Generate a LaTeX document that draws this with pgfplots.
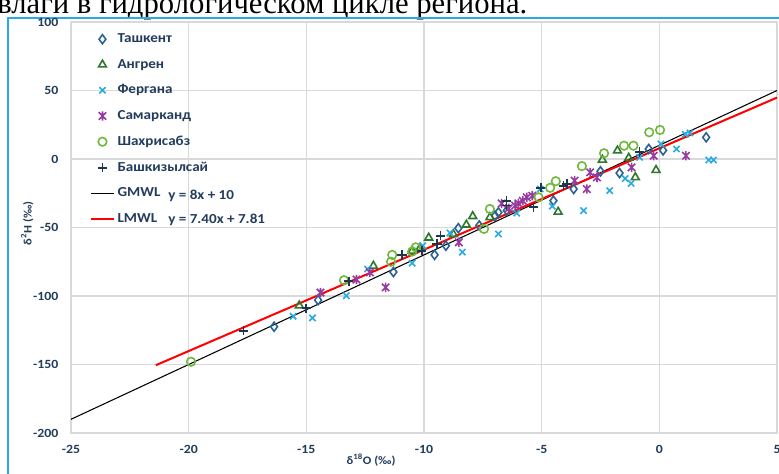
\documentclass[border=0pt]{standalone}
\usepackage{fontspec}
\setmainfont{Carlito}[FakeStretch=1.1]
\newfontfamily\serifcyr{Liberation Serif}
\usepackage{pgfplots}
\pgfplotsset{compat=1.18}

\definecolor{gridgray}{RGB}{217,217,217}
\definecolor{labcol}{RGB}{34,60,92}
\definecolor{framecol}{RGB}{40,170,230}
\definecolor{ctash}{RGB}{42,98,148}
\definecolor{cangr}{RGB}{45,120,45}
\definecolor{cferg}{RGB}{41,171,226}
\definecolor{csam}{RGB}{150,60,160}
\definecolor{cshah}{RGB}{110,185,60}
\definecolor{cbash}{RGB}{30,55,80}

% star marker: a cross with a vertical bar through it
\pgfdeclareplotmark{xstar}{%
  \pgfpathmoveto{\pgfqpoint{-0.8\pgfplotmarksize}{-0.8\pgfplotmarksize}}%
  \pgfpathlineto{\pgfqpoint{0.8\pgfplotmarksize}{0.8\pgfplotmarksize}}%
  \pgfpathmoveto{\pgfqpoint{-0.8\pgfplotmarksize}{0.8\pgfplotmarksize}}%
  \pgfpathlineto{\pgfqpoint{0.8\pgfplotmarksize}{-0.8\pgfplotmarksize}}%
  \pgfpathmoveto{\pgfqpoint{0pt}{-\pgfplotmarksize}}%
  \pgfpathlineto{\pgfqpoint{0pt}{\pgfplotmarksize}}%
  \pgfusepathqstroke}

\begin{document}
\begin{tikzpicture}
% page: 779 x 474 px, 1 px = 0.75 pt, origin at top left
\useasboundingbox (0pt,0pt) rectangle (584.25pt,-355.5pt);
\clip (0pt,0pt) rectangle (584.25pt,-355.5pt);

\begin{scope}[x=0.75pt,y=-0.75pt]
% end of the preceding text line
\node[anchor=base west, inner sep=0pt, font=\serifcyr\fontsize{23}{28}\selectfont]
  at (-3,14) {влаги в гидрологическом цикле региона.};
% figure frame
\draw[framecol, line width=1.1pt] (8,480) -- (8,18) -- (785,18);
\end{scope}

\begin{axis}[
  at={(53.25pt,-324.75pt)}, anchor=south west,
  scale only axis, width=529.5pt, height=308.25pt,
  xmin=-25, xmax=5, ymin=-200, ymax=100,
  xtick={-25,-20,...,5}, xticklabels={-25,-20,-15,-10,-5,0,5},
  ytick={-200,-150,...,100}, yticklabels={-200,-150,-100,-50,0,50,100},
  grid=major, major grid style={gridgray, line width=0.8pt},
  axis line style={gridgray, line width=0.8pt},
  tick style={draw=none},
  ticklabel style={font=\bfseries\fontsize{9.4}{11}\selectfont, text=labcol},
  xticklabel style={yshift=-5.5pt},
  yticklabel style={xshift=-6pt},
  xlabel={δ\textsuperscript{18}O (‰)},
  ylabel={δ\textsuperscript{2}H (‰)},
  label style={font=\bfseries\fontsize{8.6}{10}\selectfont, text=labcol},
  xlabel style={at={(axis description cs:0.425,-0.066)}, anchor=center},
  ylabel style={at={(axis description cs:-0.062,0.51)}, anchor=center},
  legend cell align=left,
  legend style={at={(axis description cs:0.021,0.985)}, anchor=north west,
    draw=none, fill=none, row sep=6.9pt,
    font=\bfseries\fontsize{10.3}{12}\selectfont, text=labcol},
]
\addplot[only marks, mark=diamond, mark size=3.4pt, mark options={draw=ctash, line width=1.2pt, fill=none}] coordinates {
(-16.37,-122.4) (-14.5,-103) (-11.3,-82.5) (-9.55,-70) (-9.07,-63.3)
(-8.54,-50.5) (-7.65,-48.5) (-6.98,-41.4) (-6.84,-39) (-6.48,-37.7)
(-4.5,-30.4) (-3.64,-21.9) (-2.5,-9) (-1.69,-10.3) (-0.45,7.3)
(0.16,6.3) (1.99,15.8)};
\addlegendentry{Ташкент}
\addplot[only marks, mark=triangle, mark size=3.4pt, mark options={draw=cangr, line width=1.2pt, fill=none}] coordinates {
(-15.3,-107) (-12.15,-78) (-10.5,-67) (-10.17,-65) (-9.8,-57.5)
(-8.75,-55) (-8.2,-48) (-7.93,-41.8) (-7.2,-42.6) (-4.3,-38.6)
(-2.42,-0.6) (-1.78,6.1) (-1.3,0.8) (-1.02,-13.4) (-0.14,-8.1)};
\addlegendentry{Ангрен}
\addplot[only marks, mark=x, mark size=3.3pt, mark options={draw=cferg, line width=1.2pt}] coordinates {
(-15.56,-114.8) (-14.74,-116) (-13.3,-99.8) (-12.4,-80.3) (-10.5,-76)
(-10.05,-63.3) (-8.9,-54) (-8.37,-68) (-6.84,-54.7) (-6.06,-39.5)
(-5.06,-21.9) (-4.55,-34.5) (-3.22,-37.7) (-2.11,-23.1) (-1.45,-14.3)
(-1.2,-17.8) (-0.84,1.2) (0.07,11) (0.73,7.3) (1.1,18) (1.3,19)
(2.1,-0.7) (2.3,-0.7)};
\addlegendentry{Фергана}
\addplot[only marks, mark=xstar, mark size=3.5pt, mark options={draw=csam, line width=1.2pt}] coordinates {
(-14.4,-97.5) (-12.87,-88) (-12.3,-82.7) (-11.63,-93.7) (-8.52,-60.8)
(-6.7,-32.5) (-6.4,-36) (-6.13,-34) (-5.99,-32.4) (-5.8,-30.5)
(-5.63,-28) (-5.4,-26.8) (-3.6,-15.8) (-3.08,-21.9) (-2.94,-9.8)
(-2.65,-13.4) (-1.18,-6.1) (-0.24,2.4) (1.13,2.4)};
\addlegendentry{Самарканд}
\addplot[only marks, mark=o, mark size=3.2pt, mark options={draw=cshah, line width=1.2pt, fill=none}] coordinates {
(-19.9,-148) (-13.4,-88.5) (-11.35,-70) (-11.4,-75) (-10.5,-67.5)
(-10.35,-64.5) (-7.45,-51) (-7.2,-36.5) (-5.13,-28) (-4.64,-21)
(-4.4,-16.2) (-3.29,-5.2) (-2.35,4.2) (-1.5,9.7) (-1.1,9.7)
(-0.43,19.5) (0.03,21.2)};
\addlegendentry{Шахрисабз}
\addplot[only marks, mark=+, mark size=3.5pt, mark options={draw=cbash, line width=1.3pt}] coordinates {
(-17.67,-125.3) (-15.0,-109) (-13.2,-89.3) (-10.93,-70) (-10.1,-67)
(-9.45,-62) (-9.3,-56) (-6.5,-30.4) (-6.5,-34) (-5.35,-35.3)
(-5.04,-21) (-4.07,-19.5) (-3.93,-18.2) (-0.84,5)};
\addlegendentry{Башкизылсай}
% global and local meteoric water lines
\addplot[black, line width=0.8pt] coordinates {(-25,-190) (5,50)};
\addlegendentry{GMWL}
\addplot[red, line width=1.5pt] coordinates {(-21.4,-150.55) (5,44.81)};
\addlegendentry{LMWL}
\end{axis}

\begin{scope}[x=0.75pt,y=-0.75pt]
\node[anchor=west, inner sep=0pt, font=\bfseries\fontsize{10.3}{12}\selectfont, text=labcol] at (168,196) {y = 8x + 10};
\node[anchor=west, inner sep=0pt, font=\bfseries\fontsize{10.3}{12}\selectfont, text=labcol] at (168,220) {y = 7.40x + 7.81};
\end{scope}
\end{tikzpicture}
\end{document}
